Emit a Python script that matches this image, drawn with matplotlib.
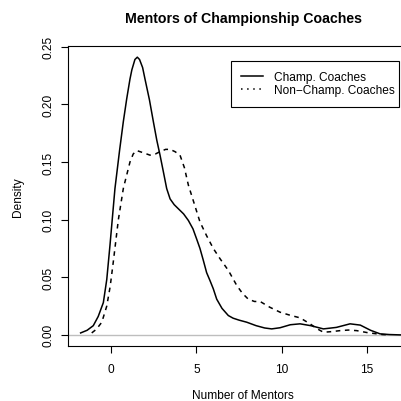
import matplotlib
matplotlib.use("Agg")
import matplotlib.pyplot as plt
from matplotlib.lines import Line2D

plt.rcParams['font.family'] = ['Liberation Sans', 'DejaVu Sans']

# density of mentors, champion coaches
champ_x = [-1.78, -1.4, -1.04, -0.75, -0.45, -0.25, -0.06, 0.23, 0.5, 0.72, 0.92,
           1.11, 1.22, 1.4, 1.54, 1.67, 1.85, 1.99, 2.25, 2.48, 2.68, 2.87, 3.06, 3.26, 3.46,
           3.7, 3.94, 4.25, 4.53, 4.8, 5.02, 5.21, 5.4, 5.6, 5.8, 5.99, 6.19, 6.5,
           6.87, 7.15, 7.5, 7.95, 8.5, 9.0, 9.41, 9.9, 10.5, 11.07, 11.7, 12.44,
           13.2, 14.0, 14.6, 15.2, 15.76, 16.3, 16.93, 17.5]
champ_y = [0.0017, 0.004, 0.008, 0.016, 0.028, 0.048, 0.078, 0.127, 0.16, 0.185, 0.205,
           0.222, 0.230, 0.239, 0.241, 0.239, 0.232, 0.222, 0.204, 0.185, 0.169, 0.156, 0.142, 0.127, 0.118,
           0.113, 0.1095, 0.105, 0.0993, 0.092, 0.083, 0.075, 0.065, 0.054, 0.047, 0.040, 0.031, 0.023,
           0.0168, 0.0145, 0.0128, 0.011, 0.008, 0.006, 0.0052, 0.0062, 0.0088, 0.0096, 0.008, 0.0052,
           0.0065, 0.0096, 0.0085, 0.004, 0.0009, 0.0003, 0.0, 0.0]

# density of mentors, non-champion coaches
non_x = [-1.13, -0.85, -0.54, -0.25, -0.05, 0.13, 0.43, 0.72, 0.82, 1.11, 1.3, 1.5,
         1.9, 2.28, 2.6, 2.87, 3.2, 3.46, 3.75, 4.04, 4.3, 4.53, 4.85, 5.21, 5.6,
         5.99, 6.39, 6.87, 7.36, 7.7, 8.04, 8.4, 8.73, 9.3, 9.9, 10.5, 11.07, 11.66,
         12.05, 12.44, 12.9, 13.42, 13.9, 14.39, 15.0, 15.57, 15.9, 16.3]
non_y = [0.0017, 0.005, 0.011, 0.025, 0.042, 0.063, 0.100, 0.127, 0.133, 0.150, 0.157, 0.160,
         0.158, 0.156, 0.157, 0.159, 0.161, 0.161, 0.159, 0.156, 0.145, 0.130, 0.115, 0.098, 0.086,
         0.075, 0.066, 0.056, 0.043, 0.036, 0.031, 0.029, 0.029, 0.024, 0.0197, 0.017, 0.0148, 0.0096,
         0.0055, 0.0023, 0.0028, 0.0037, 0.0042, 0.0037, 0.002, 0.0009, 0.0003, 0.0]

fig = plt.figure(figsize=(4.01, 4.02), dpi=100)
# plot region runs past the right edge of the picture (cropped like the original)
ax = fig.add_axes([68/401, 1 - 347/402, 350/401, 300/402])

ax.axhline(0, color='#BEBEBE', lw=1.0, zorder=1)
ax.plot(champ_x, champ_y, color='black', lw=1.1, zorder=3)
ax.plot(non_x, non_y, color='black', lw=1.1, ls=(0, (3, 3)), zorder=3)

ax.set_xlim(-2.52, 17.98)
ax.set_ylim(-0.00964, 0.2507)
ax.set_xticks([0, 5, 10, 15])
ax.set_yticks([0.0, 0.05, 0.10, 0.15, 0.20, 0.25])
ax.set_yticklabels(['0.00', '0.05', '0.10', '0.15', '0.20', '0.25'],
                   rotation=90, va='center')
ax.tick_params(direction='out', length=5, width=0.8, labelsize=8.6)
ax.tick_params(axis='x', pad=7)
ax.tick_params(axis='y', pad=5)
for s in ax.spines.values():
    s.set_linewidth(0.8)

ax.set_xlabel("Number of Mentors", fontsize=8.6, labelpad=10)
ax.set_ylabel("Density", fontsize=8.6, labelpad=13)
ax.set_title("Mentors of Championship Coaches", fontsize=10.2, fontweight='bold', pad=17)

handles = [Line2D([], [], color='black', lw=1.1),
           Line2D([], [], color='black', lw=1.1, ls=(0, (1, 3)))]
leg = ax.legend(handles, ["Champ. Coaches", "Non\u2212Champ. Coaches"],
                loc='upper left', bbox_to_anchor=(231/401, 1 - 108/402, 168/401, 46/402),
                mode='expand', bbox_transform=fig.transFigure, fontsize=8.6, fancybox=False,
                framealpha=1, edgecolor='black', borderaxespad=0, borderpad=0.85,
                labelspacing=0.1, handlelength=1.85, handletextpad=0.9)
leg.get_frame().set_linewidth(0.8)

fig.savefig("out.png", dpi=100)
